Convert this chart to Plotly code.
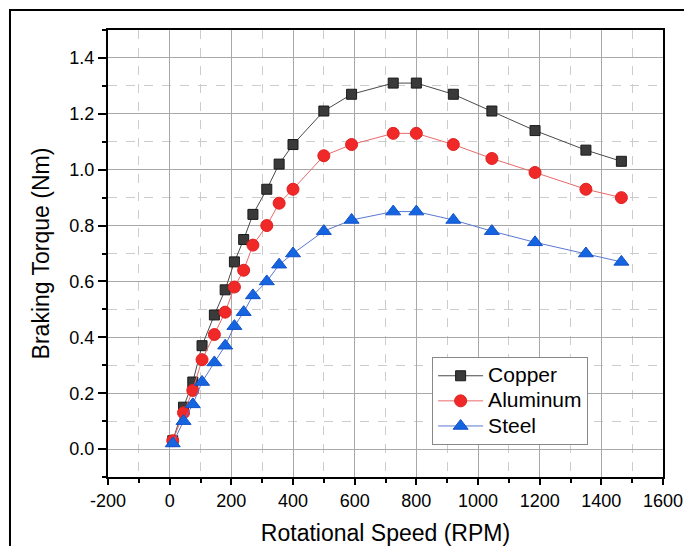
import plotly.graph_objects as go

speed = [10, 45, 75, 105, 145, 180, 210, 240, 270, 315, 355, 400, 500, 590, 725, 800, 920, 1045, 1185, 1350, 1465]
copper = [0.03, 0.15, 0.24, 0.37, 0.48, 0.57, 0.67, 0.75, 0.84, 0.93, 1.02, 1.09, 1.21, 1.27, 1.31, 1.31, 1.27, 1.21, 1.14, 1.07, 1.03]
aluminum = [0.03, 0.13, 0.21, 0.32, 0.41, 0.49, 0.58, 0.64, 0.73, 0.80, 0.88, 0.93, 1.05, 1.09, 1.13, 1.13, 1.09, 1.04, 0.99, 0.93, 0.90]
steel = [0.02, 0.10, 0.16, 0.24, 0.31, 0.37, 0.44, 0.49, 0.55, 0.60, 0.66, 0.70, 0.78, 0.82, 0.85, 0.85, 0.82, 0.78, 0.74, 0.70, 0.67]
names = ["Copper", "Aluminum", "Steel"]
x_tickvals = [-200, 0, 200, 400, 600, 800, 1000, 1200, 1400, 1600]
x_ticktext = ["-200", "0", "200", "400", "600", "800", "1000", "1200", "1400", "1600"]
y_tickvals = [0.0, 0.2, 0.4, 0.6, 0.8, 1.0, 1.2, 1.4]
y_ticktext = ["0.0", "0.2", "0.4", "0.6", "0.8", "1.0", "1.2", "1.4"]

FONT = "Liberation Sans, Arial, sans-serif"


def legend_label(n):
    return "<span style='font-size:21px'>" + n + "</span>"


fig = go.Figure()
fig.add_trace(go.Scatter(x=speed, y=copper, name=legend_label(names[0]), mode="lines+markers",
                         line=dict(color="#4a4a4a", width=1),
                         marker=dict(symbol="square", size=10, color="#3a3a3a",
                                     line=dict(color="#1a1a1a", width=1))))
fig.add_trace(go.Scatter(x=speed, y=aluminum, name=legend_label(names[1]), mode="lines+markers",
                         line=dict(color="#e86a6a", width=1),
                         marker=dict(symbol="circle", size=12, color="#f02828",
                                     line=dict(color="#e02020", width=1))))
fig.add_trace(go.Scatter(x=speed, y=steel, name=legend_label(names[2]), mode="lines+markers",
                         line=dict(color="#5a78d0", width=1),
                         marker=dict(symbol="triangle-up", size=13, color="#1565e0",
                                     line=dict(color="#1050c8", width=1))))

axis_common = dict(
    showline=True, linecolor="black", linewidth=2, mirror=True,
    ticks="outside", tickwidth=2, tickcolor="black",
    showgrid=True, gridcolor="#a8a8a8", gridwidth=1,
    zeroline=False, automargin=False, ticklabeloverflow="allow",
    tickfont=dict(family=FONT, size=18, color="black"),
)

fig.update_xaxes(
    range=[-200, 1600], tickmode="array", tickvals=x_tickvals, ticktext=x_ticktext, ticklen=6,
    title=dict(text="Rotational Speed (RPM)", font=dict(family=FONT, size=23, color="black"), standoff=23),
    minor=dict(dtick=100, tick0=0, ticks="outside", ticklen=4, tickwidth=2, tickcolor="black",
               showgrid=True, gridcolor="#cccccc", griddash="dash", gridwidth=1),
    **axis_common,
)
fig.update_yaxes(
    range=[-0.1, 1.5], tickmode="array", tickvals=y_tickvals, ticktext=y_ticktext, ticklen=8,
    title=dict(text="Braking Torque (Nm)", font=dict(family=FONT, size=23, color="black"), standoff=13),
    minor=dict(dtick=0.1, tick0=0, ticks="outside", ticklen=4, tickwidth=2, tickcolor="black",
               showgrid=True, gridcolor="#cccccc", griddash="dash", gridwidth=1),
    **axis_common,
)

fig.add_shape(type="rect", xref="paper", yref="paper",
              x0=-0.1766, x1=1.2, y0=-0.3, y1=1.0447,
              line=dict(color="black", width=2), fillcolor="rgba(0,0,0,0)", layer="below")

fig.update_layout(
    width=676, height=538,
    margin=dict(l=100, r=21, t=22, b=69),
    paper_bgcolor="white", plot_bgcolor="white",
    font=dict(family=FONT, color="black"),
    legend=dict(x=0.584, y=0.268, xanchor="left", yanchor="top",
                bgcolor="white", bordercolor="#888888", borderwidth=1,
                font=dict(family=FONT, size=17, color="black"),
                tracegroupgap=0, itemwidth=45),
    showlegend=True,
)

fig.write_html("out.html")
